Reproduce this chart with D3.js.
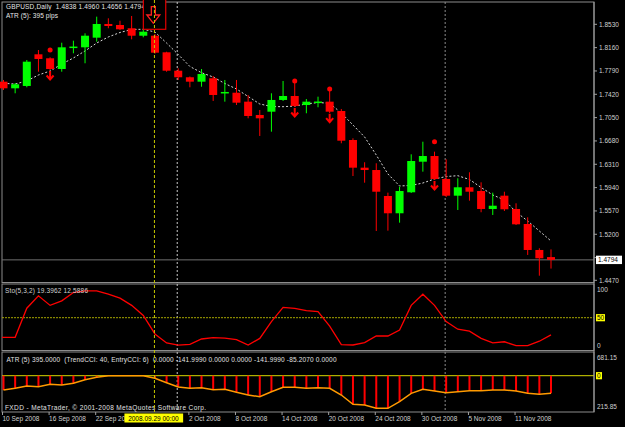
<!DOCTYPE html>
<html>
<head>
<meta charset="utf-8">
<script src="https://cdnjs.cloudflare.com/ajax/libs/d3/7.8.5/d3.min.js"></script>
<style>
body{margin:0;background:#000;}
svg{display:block;}
text{font-family:"Liberation Sans",Arial,sans-serif;font-size:6.5px;white-space:pre;}
</style>
</head>
<body>
<svg id="chart"></svg>
<script>
// GBPUSD daily bars, 10 Sep - 14 Nov 2008
var opens = [1.7620,1.7515,1.7552,1.8054,1.7991,1.7821,1.8162,1.8165,1.8318,1.8535,
  1.8519,1.8467,1.8349,1.8349,1.8086,1.7794,1.7690,1.7620,1.7674,1.7441,
  1.7445,1.7303,1.7092,1.7144,1.7330,1.7393,1.7250,1.7290,1.7303,1.7155,
  1.6695,1.6256,1.6219,1.5807,1.5533,1.5866,1.6351,1.6441,1.6077,1.5812,
  1.5945,1.5886,1.5601,1.5812,1.5601,1.5363,1.4951,1.4838];
var highs = [1.7647,1.7599,1.7964,1.8122,1.8007,1.8238,1.8270,1.8387,1.8651,1.8625,
  1.8587,1.8662,1.8451,1.8376,1.8095,1.7832,1.7702,1.7821,1.7710,1.7647,
  1.7647,1.7409,1.7171,1.7436,1.7631,1.7631,1.7345,1.7382,1.7504,1.7187,
  1.6722,1.6342,1.6326,1.5860,1.5955,1.6468,1.6668,1.6510,1.6389,1.6088,
  1.6183,1.6024,1.5860,1.5875,1.5691,1.5469,1.4978,1.4960];
var lows = [1.7488,1.7436,1.7531,1.7778,1.7805,1.7778,1.8070,1.7912,1.8254,1.8467,
  1.8440,1.8292,1.8324,1.8064,1.7778,1.7647,1.7531,1.7540,1.7314,1.7303,
  1.7250,1.7039,1.6759,1.6827,1.7314,1.7219,1.7119,1.7214,1.7123,1.6643,
  1.6124,1.6018,1.5252,1.5257,1.5384,1.5855,1.6193,1.6061,1.5791,1.5585,
  1.5733,1.5549,1.5506,1.5569,1.5347,1.4872,1.4543,1.4656];
var closes = [1.7515,1.7579,1.7937,1.7980,1.7821,1.8165,1.8165,1.8349,1.8535,1.8503,
  1.8451,1.8349,1.8413,1.8080,1.7794,1.7690,1.7620,1.7742,1.7409,1.7445,
  1.7287,1.7076,1.7039,1.7330,1.7393,1.7234,1.7303,1.7293,1.7144,1.6684,
  1.6256,1.6219,1.5875,1.5533,1.5886,1.6362,1.6441,1.6077,1.5812,1.5945,
  1.5875,1.5601,1.5653,1.5596,1.5358,1.4951,1.4819,1.4794];
var maVals = [1.7594,1.7583,1.7631,1.7726,1.7789,1.7900,1.7996,1.8107,1.8233,1.8329,
  1.8400,1.8448,1.8451,1.8408,1.8233,1.8051,1.7861,1.7762,1.7694,1.7591,
  1.7504,1.7385,1.7266,1.7226,1.7223,1.7234,1.7266,1.7290,1.7277,1.7123,
  1.6933,1.6743,1.6457,1.6156,1.5966,1.5974,1.6013,1.6077,1.6116,1.6129,
  1.6069,1.5942,1.5823,1.5744,1.5553,1.5411,1.5252,1.5094];
var stoVals = [15,15,67,89,72,80,95,98,98,92,
  85,72,54,21,5,1,2.5,12,14.5,13.5,
  11,1,13,43,68.5,66.7,62.5,61,35,2,
  1.25,5.5,17.3,17.3,28,72,92,72,43,29.5,
  26,13,5,7,0,0,8,19.4];
var atrHist = [-143,-126,-103,-110,-86,-93,-76,-40,-16,0,
  0,0,0,-26,-70,-113,-126,-120,-140,-136,
  -166,-193,-210,-160,-116,-116,-126,-120,-126,-193,
  -286,-293,-326,-326,-260,-176,-136,-153,-170,-160,
  -150,-150,-143,-143,-153,-176,-186,-176];

// signal marks
var dotBars = [4,25,28,37];
var dotPrices = [1.8122,1.7631,1.7504,1.6668];
var arrowBars = [4,25,28,37];

// axis
var priceTicks = [1.8530,1.8160,1.7790,1.7420,1.7050,1.6680,1.6310,1.5940,1.5570,1.5200,1.4830,1.4470];
var tickIdx = [0,4,8,16,20,24,28,32,36,40,44];
var tickText = ["10 Sep 2008","16 Sep 2008","22 Sep 20","2 Oct 2008","8 Oct 2008",
  "14 Oct 2008","20 Oct 2008","24 Oct 2008","30 Oct 2008","5 Nov 2008","11 Nov 2008"];
var separators = [15,38];
var markBar = 13;
var markText = "2008.09.29 00:00";
var lastPrice = 1.4794;

var W = 625, H = 427, L = 2, R = 594;
var svg = d3.select("#chart").attr("width", W).attr("height", H);
svg.append("rect").attr("width", W).attr("height", H).attr("fill", "#000");

var x = d3.scaleLinear().domain([0, 47]).range([3.5, 551]);
var y = d3.scaleLinear().domain([1.4470, 1.8530]).range([280.3, 24.3]);
var ys = d3.scaleLinear().domain([0, 100]).range([345.7, 289.7]);
var ya = d3.scaleLinear().domain([-300, 0]).range([405.7, 375.7]);

var panes = [[2, 282.5], [284, 350.5], [352, 412]];

// pane frames
svg.selectAll("rect.pane").data(panes).enter().append("rect")
  .attr("class", "pane")
  .attr("x", L).attr("y", function(d){ return d[0]; })
  .attr("width", R - L).attr("height", function(d){ return d[1] - d[0]; })
  .attr("fill", "none").attr("stroke", "#8c8c8c").attr("stroke-width", 1);

// period separators
separators.forEach(function(i, k){
  panes.forEach(function(p){
    svg.append("line")
      .attr("x1", x(i) - 1).attr("x2", x(i) - 1)
      .attr("y1", p[0]).attr("y2", p[1])
      .attr("stroke", k == 0 ? "#c8c8c8" : "#8a8a8a")
      .attr("stroke-dasharray", "2,2");
  });
});

// header text
svg.append("text").attr("x", 6).attr("y", 8.5).attr("fill", "#e6e6e6")
  .attr("textLength", 139).attr("lengthAdjust", "spacing")
  .text("GBPUSD,Daily  1.4838 1.4960 1.4656 1.4794");
svg.append("text").attr("x", 6).attr("y", 17.5).attr("fill", "#e6e6e6")
  .attr("textLength", 52).attr("lengthAdjust", "spacing")
  .text("ATR (5): 395 pips");

// price line
svg.append("line").attr("x1", L).attr("x2", R)
  .attr("y1", y(lastPrice)).attr("y2", y(lastPrice))
  .attr("stroke", "#707070");

// moving average
var bars = d3.range(opens.length);
svg.append("path")
  .attr("d", d3.line().x(function(i){ return x(i); }).y(function(i){ return y(maVals[i]); })(bars))
  .attr("fill", "none").attr("stroke", "#d8d8d8").attr("stroke-width", 1)
  .attr("stroke-dasharray", "2,2");

// candles
var cg = svg.append("g");
bars.forEach(function(i){
  var up = closes[i] >= opens[i];
  var col = up ? "#00ff00" : "#ff0000";
  cg.append("line")
    .attr("x1", x(i)).attr("x2", x(i))
    .attr("y1", y(highs[i])).attr("y2", y(lows[i]))
    .attr("stroke", col).attr("stroke-width", 1);
  var top = y(Math.max(opens[i], closes[i]));
  var h = Math.abs(y(opens[i]) - y(closes[i]));
  cg.append("rect")
    .attr("x", x(i) - 4).attr("y", h < 1.5 ? top - 0.75 : top)
    .attr("width", 8).attr("height", Math.max(1.5, h))
    .attr("fill", col);
});

// dots and arrows
dotBars.forEach(function(i, k){
  svg.append("circle").attr("cx", x(i)).attr("cy", y(dotPrices[k])).attr("r", 2.5).attr("fill", "#ff0000");
});
arrowBars.forEach(function(i){
  var t = y(closes[i]) + 2, cx = x(i);
  svg.append("path")
    .attr("d", "M" + cx + "," + t + "V" + (t + 8) + "M" + (cx - 3.5) + "," + (t + 4.5) + "L" + cx + "," + (t + 8.5) + "L" + (cx + 3.5) + "," + (t + 4.5))
    .attr("fill", "none").attr("stroke", "#ff0000").attr("stroke-width", 2);
});

// arrow object box
var bx = x(markBar);
svg.append("rect").attr("x", bx - 11.6).attr("y", -1).attr("width", 22.4).attr("height", 30.3)
  .attr("fill", "#000").attr("stroke", "#e00000").attr("stroke-width", 1.2);
var ax = bx - 1.6;
svg.append("path")
  .attr("d", "M" + (ax - 2) + ",6.7H" + (ax + 2) + "V15H" + (ax + 6.5) + "L" + ax + ",23.3L" + (ax - 6.5) + ",15H" + (ax - 2) + "Z")
  .attr("fill", "none").attr("stroke", "#ff2020").attr("stroke-width", 1.3);

// stochastic pane
svg.append("line").attr("x1", L).attr("x2", R).attr("y1", ys(50)).attr("y2", ys(50))
  .attr("stroke", "#a6a600").attr("stroke-dasharray", "2,1");
svg.append("path")
  .attr("d", d3.line().x(function(i){ return i == 0 ? L : x(i); }).y(function(i){ return ys(stoVals[i]); })(bars))
  .attr("fill", "none").attr("stroke", "#ff0000").attr("stroke-width", 1.3);
svg.append("text").attr("x", 5).attr("y", 293).attr("fill", "#d0d0d0")
  .attr("textLength", 83).attr("lengthAdjust", "spacing")
  .text("Sto(5,3,2) 19.3962 12.5886");

// ATR pane
svg.append("line").attr("x1", L).attr("x2", R).attr("y1", ya(0)).attr("y2", ya(0))
  .attr("stroke", "#d8d800");
svg.selectAll("line.hist").data(bars).enter().append("line")
  .attr("class", "hist")
  .attr("x1", function(i){ return x(i); }).attr("x2", function(i){ return x(i); })
  .attr("y1", ya(0)).attr("y2", function(i){ return ya(atrHist[i]); })
  .attr("stroke", "#ff0000").attr("stroke-width", 2);
svg.append("path")
  .attr("d", d3.line().x(function(i){ return x(i); }).y(function(i){ return ya(atrHist[i]); })(bars))
  .attr("fill", "none").attr("stroke", "#ff9a00").attr("stroke-width", 1.5);
svg.append("text").attr("x", 6.5).attr("y", 362).attr("fill", "#e0e0e0")
  .attr("textLength", 330).attr("lengthAdjust", "spacing")
  .text("ATR (5) 395.0000  (TrendCCI: 40, EntryCCI: 6)  0.0000 -141.9990 0.0000 0.0000 -141.9990 -85.2070 0.0000");
svg.append("text").attr("x", 5).attr("y", 410).attr("fill", "#e0e0e0")
  .attr("textLength", 201).attr("lengthAdjust", "spacing")
  .text("FXDD - MetaTrader, \u00a9 2001-2008 MetaQuotes Software Corp.");

// crosshair vertical line
svg.append("line").attr("x1", x(markBar) - 0.5).attr("x2", x(markBar) - 0.5)
  .attr("y1", 0).attr("y2", 412)
  .attr("stroke", "#c8c800").attr("stroke-dasharray", "3,2");

// right axis
svg.append("line").attr("x1", R).attr("x2", R).attr("y1", 2).attr("y2", 412).attr("stroke", "#a0a0a0");
var axg = svg.append("g");
priceTicks.forEach(function(p){
  axg.append("line").attr("x1", R).attr("x2", R + 3).attr("y1", y(p)).attr("y2", y(p)).attr("stroke", "#a0a0a0");
  // the last-price box covers a label that sits too close to it
  if (Math.abs(y(p) - y(lastPrice)) < 8) return;
  axg.append("text").attr("x", R + 5).attr("y", y(p)).attr("dy", "0.35em").attr("fill", "#d0d0d0").text(p.toFixed(4));
});
axg.append("rect").attr("x", R + 2).attr("y", y(lastPrice) - 4.2).attr("width", 26).attr("height", 8.4).attr("fill", "#fff");
axg.append("text").attr("x", R + 4).attr("y", y(lastPrice)).attr("dy", "0.35em").attr("fill", "#000").text(lastPrice.toFixed(4));

axg.append("text").attr("x", R + 3).attr("y", ys(100)).attr("dy", "0.35em").attr("fill", "#d0d0d0").text("100");
axg.append("text").attr("x", R + 3).attr("y", ys(0)).attr("dy", "0.35em").attr("fill", "#d0d0d0").text("0");
axg.append("rect").attr("x", R + 2).attr("y", ys(50) - 3.6).attr("width", 9).attr("height", 7.2).attr("fill", "#ffff00");
axg.append("text").attr("x", R + 3).attr("y", ys(50)).attr("dy", "0.35em").attr("fill", "#000").text("50");

axg.append("text").attr("x", R + 3).attr("y", 357.5).attr("dy", "0.35em").attr("fill", "#d0d0d0").text("681.15");
axg.append("text").attr("x", R + 3).attr("y", 406.7).attr("dy", "0.35em").attr("fill", "#d0d0d0").text("215.85");
axg.append("rect").attr("x", R + 2).attr("y", ya(0) - 3.6).attr("width", 6).attr("height", 7.2).attr("fill", "#ffff00");
axg.append("text").attr("x", R + 3).attr("y", ya(0)).attr("dy", "0.35em").attr("fill", "#000").text("0");

// time axis
tickIdx.forEach(function(i, k){
  svg.append("line").attr("x1", x(i) - 1).attr("x2", x(i) - 1).attr("y1", 412).attr("y2", 415).attr("stroke", "#a0a0a0");
  svg.append("text").attr("x", x(i) - 1).attr("y", 420.5).attr("fill", "#d0d0d0").text(tickText[k]);
});
svg.append("rect").attr("x", x(markBar) - 30.5).attr("y", 413.5).attr("width", 58.7).attr("height", 9).attr("fill", "#ffff00");
svg.append("text").attr("x", x(markBar) - 1.5).attr("y", 420.5).attr("text-anchor", "middle").attr("fill", "#000").text(markText);
</script>
</body>
</html>
